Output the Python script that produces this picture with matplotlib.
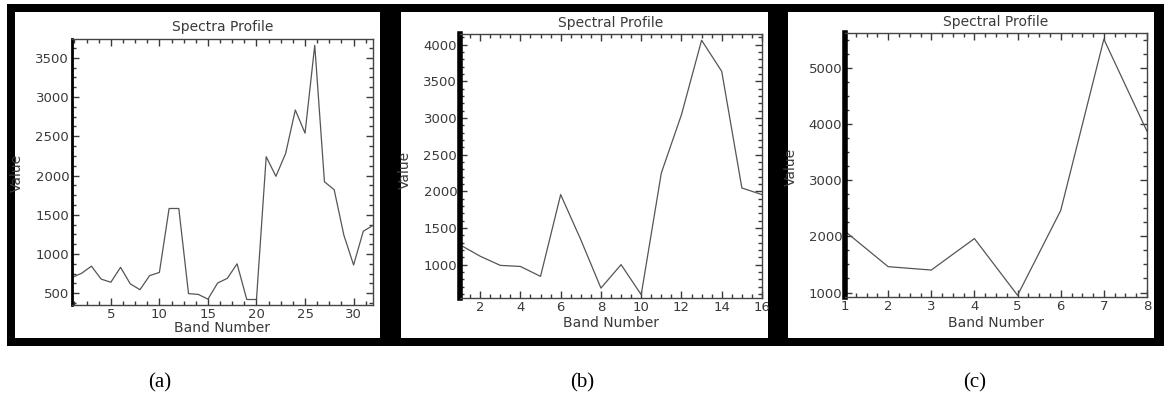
# Spectral profiles, three panels
import matplotlib
matplotlib.use('Agg')
import matplotlib.pyplot as plt
from matplotlib.patches import Rectangle
from matplotlib.ticker import MultipleLocator

W, H = 1164, 397

# values
bands_a = list(range(1, 33))
values_a = [700, 755, 845, 680, 640, 830, 620, 545, 725, 765,
            1580, 1580, 495, 485, 425, 630, 690, 875, 420, 420,
            2240, 1990, 2280, 2835, 2540, 3660, 1920, 1820, 1240, 860,
            1290, 1365]

bands_b = list(range(1, 17))
values_b = [1270, 1115, 990, 975, 840, 1955, 1340, 680, 1000, 590,
            2250, 3045, 4060, 3635, 2045, 1955]

bands_c = list(range(1, 9))
values_c = [2090, 1460, 1400, 1960, 950, 2460, 5510, 3870]

titles = ['Spectra Profile', 'Spectral Profile', 'Spectral Profile']
captions = ['(a)', '(b)', '(c)']

fig = plt.figure(figsize=(W / 100, H / 100), dpi=100)

def rect(x0, y0, x1, y1, **kw):
    # pixel box (top-left origin) -> figure coords
    return Rectangle((x0 / W, 1 - y1 / H), (x1 - x0) / W, (y1 - y0) / H,
                     transform=fig.transFigure, **kw)

# black frames with white insides
fig.patches.append(rect(7, 4, 1164, 346, facecolor='black', edgecolor='none', zorder=-3))
for x0, x1 in [(15, 380), (401, 768), (788, 1154)]:
    fig.patches.append(rect(x0, 12, x1, 338, facecolor='white', edgecolor='none', zorder=-2))

ink = '#3a3a3a'
plt.rcParams['font.family'] = ['DejaVu Sans']

panels = [
    dict(box=(72, 39, 373, 305), x=bands_a, y=values_a, xlim=(1, 32), ylim=(350, 3740),
         xmaj=5, xmin=1.25, ymaj=500, ymin=125, spine=2.0,
         title_y=27, xl_y=328, yl_x=17, yl_y=173, cap_x=160),
    dict(box=(460, 34, 762, 298), x=bands_b, y=values_b, xlim=(1, 16), ylim=(545, 4145),
         xmaj=2, xmin=0.5, ymaj=500, ymin=100, spine=4.0,
         title_y=23, xl_y=323, yl_x=405, yl_y=170, cap_x=582),
    dict(box=(845, 33, 1147, 297), x=bands_c, y=values_c, xlim=(1, 8), ylim=(920, 5620),
         xmaj=1, xmin=0.25, ymaj=1000, ymin=250, spine=4.0,
         title_y=22, xl_y=323, yl_x=791, yl_y=167, cap_x=975),
]

for p, title, cap in zip(panels, titles, captions):
    l, t, r, b = p['box']
    ax = fig.add_axes([l / W, 1 - b / H, (r - l) / W, (b - t) / H])
    ax.set_facecolor('none')
    ax.plot(p['x'], p['y'], color='#555555', lw=0.9)
    ax.set_xlim(*p['xlim'])
    ax.set_ylim(*p['ylim'])
    ax.xaxis.set_major_locator(MultipleLocator(p['xmaj']))
    ax.xaxis.set_minor_locator(MultipleLocator(p['xmin']))
    ax.yaxis.set_major_locator(MultipleLocator(p['ymaj']))
    ax.yaxis.set_minor_locator(MultipleLocator(p['ymin']))
    ax.tick_params(which='both', direction='in', top=True, right=True,
                   colors=ink, labelsize=9.5, pad=2)
    ax.tick_params(which='major', length=5, width=1)
    ax.tick_params(which='minor', length=3, width=1)
    for s in ['top', 'right', 'bottom']:
        ax.spines[s].set_color('#444444')
        ax.spines[s].set_linewidth(1.0)
    ax.spines['left'].set_color('black')
    ax.spines['left'].set_linewidth(p['spine'])

    cx = (l + r) / 2
    fig.text(cx / W, 1 - p['title_y'] / H, title, ha='center', va='center',
             fontsize=10, color=ink)
    fig.text(cx / W, 1 - p['xl_y'] / H, 'Band Number', ha='center', va='center',
             fontsize=10, color=ink)
    fig.text(p['yl_x'] / W, 1 - p['yl_y'] / H, 'Value', ha='center', va='center',
             rotation=90, fontsize=10, color=ink)
    fig.text(p['cap_x'] / W, 1 - 383 / H, cap, ha='center', va='center',
             fontsize=15, family='Liberation Serif', color='black')

fig.savefig('out.png', dpi=100)
